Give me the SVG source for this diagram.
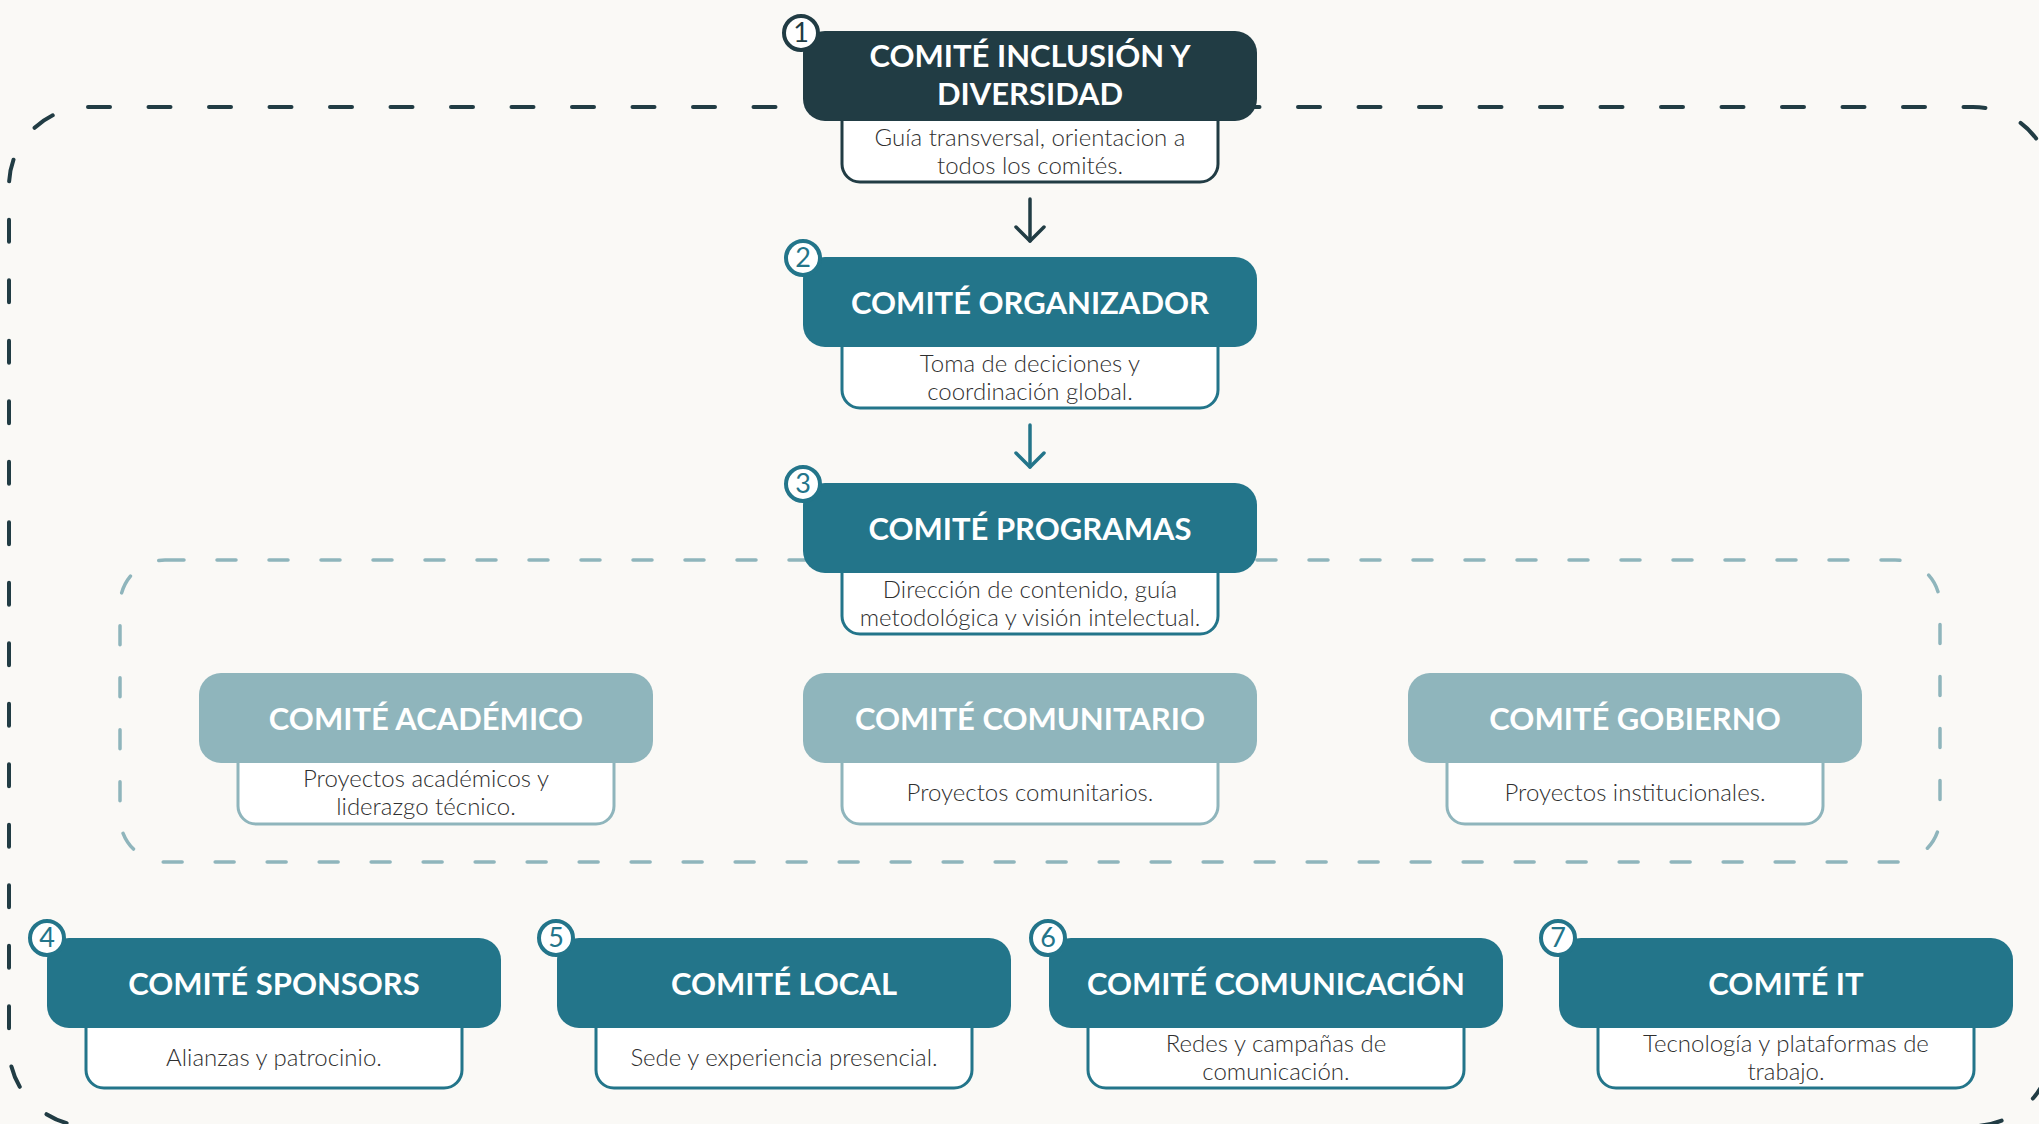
<svg xmlns="http://www.w3.org/2000/svg" width="2039" height="1124" viewBox="0 0 2039 1124">
  <style>
    .bg { fill: #faf9f6; }
    .outer { fill: none; stroke: #213c44; stroke-width: 4; stroke-dasharray: 22 38.5; stroke-linecap: round; }
    .inner { fill: none; stroke: #8fb5bc; stroke-width: 3.5; stroke-dasharray: 19 33; stroke-linecap: round; }
    .hd-dark { fill: #213c44; }
    .hd-teal { fill: #23758a; }
    .hd-light { fill: #8fb5bc; }
    .ds { fill: #ffffff; stroke-width: 3; }
    .ds-dark { stroke: #213c44; }
    .ds-teal { stroke: #23758a; }
    .ds-light { stroke: #8fb5bc; }
    .title { font-family: Lato, "Liberation Sans", sans-serif; font-weight: 700; font-size: 31px; fill: #ffffff; text-anchor: middle; }
    .desc { font-family: Lato, "Liberation Sans", sans-serif; font-weight: 300; font-size: 24px; fill: #2f2f2f; text-anchor: middle; }
    .badge { fill: #ffffff; stroke-width: 4; }
    .b-dark { stroke: #213c44; }
    .b-teal { stroke: #23758a; }
    .num { font-family: Lato, "Liberation Sans", sans-serif; font-weight: 400; font-size: 27px; text-anchor: middle; }
    .n-dark { fill: #213c44; }
    .n-teal { fill: #23758a; }
    .arr { fill: none; stroke-width: 3.5; stroke-linecap: round; }
  </style>
  <defs>
    <marker id="head-dark" markerUnits="userSpaceOnUse" markerWidth="40" markerHeight="40" refX="0" refY="0" viewBox="-20 -20 40 40" orient="auto" overflow="visible">
      <path d="M-14,-14 L0,0 L-14,14" fill="none" stroke="#213c44" stroke-width="3.5" stroke-linecap="round" stroke-linejoin="round"/>
    </marker>
    <marker id="head-teal" markerUnits="userSpaceOnUse" markerWidth="40" markerHeight="40" refX="0" refY="0" viewBox="-20 -20 40 40" orient="auto" overflow="visible">
      <path d="M-14,-14 L0,0 L-14,14" fill="none" stroke="#23758a" stroke-width="3.5" stroke-linecap="round" stroke-linejoin="round"/>
    </marker>
  </defs>

  <rect class="bg" x="0" y="0" width="2039" height="1124"/>

  <g id="groups">
    <rect class="outer" x="9" y="107" width="2043" height="1019" rx="79"/>
    <rect class="inner" x="120" y="560" width="1820" height="302" rx="45"/>
  </g>

  <g id="connectors">
    <line class="arr" x1="1030" y1="199" x2="1030" y2="241" stroke="#213c44" marker-end="url(#head-dark)"/>
    <line class="arr" x1="1030" y1="425" x2="1030" y2="467" stroke="#23758a" marker-end="url(#head-teal)"/>
  </g>

  <g id="node-1">
    <rect class="ds ds-dark" x="842" y="101" width="376" height="81" rx="18"/>
    <rect class="hd-dark" x="803" y="31" width="454" height="90" rx="22"/>
    <text class="title" x="1030" y="67">COMITÉ INCLUSIÓN Y</text>
    <text class="title" x="1030" y="105">DIVERSIDAD</text>
    <text class="desc" x="1030" y="146">Guía transversal, orientacion a</text>
    <text class="desc" x="1030" y="174">todos los comités.</text>
    <circle class="badge b-dark" cx="801" cy="33" r="17"/>
    <text class="num n-dark" x="801" y="42">1</text>
  </g>

  <g id="node-2">
    <rect class="ds ds-teal" x="842" y="327" width="376" height="81" rx="18"/>
    <rect class="hd-teal" x="803" y="257" width="454" height="90" rx="22"/>
    <text class="title" x="1030" y="314">COMITÉ ORGANIZADOR</text>
    <text class="desc" x="1030" y="372">Toma de deciciones y</text>
    <text class="desc" x="1030" y="400">coordinación global.</text>
    <circle class="badge b-teal" cx="803" cy="258" r="17"/>
    <text class="num n-teal" x="803" y="267">2</text>
  </g>

  <g id="node-3">
    <rect class="ds ds-teal" x="842" y="553" width="376" height="81" rx="18"/>
    <rect class="hd-teal" x="803" y="483" width="454" height="90" rx="22"/>
    <text class="title" x="1030" y="540">COMITÉ PROGRAMAS</text>
    <text class="desc" x="1030" y="598">Dirección de contenido, guía</text>
    <text class="desc" x="1030" y="626">metodológica y visión intelectual.</text>
    <circle class="badge b-teal" cx="803" cy="484" r="17"/>
    <text class="num n-teal" x="803" y="493">3</text>
  </g>

  <g id="node-academico">
    <rect class="ds ds-light" x="238" y="743" width="376" height="81" rx="18"/>
    <rect class="hd-light" x="199" y="673" width="454" height="90" rx="22"/>
    <text class="title" x="426" y="730">COMITÉ ACADÉMICO</text>
    <text class="desc" x="426" y="787">Proyectos académicos y</text>
    <text class="desc" x="426" y="815">liderazgo técnico.</text>
  </g>

  <g id="node-comunitario">
    <rect class="ds ds-light" x="842" y="743" width="376" height="81" rx="18"/>
    <rect class="hd-light" x="803" y="673" width="454" height="90" rx="22"/>
    <text class="title" x="1030" y="730">COMITÉ COMUNITARIO</text>
    <text class="desc" x="1030" y="801">Proyectos comunitarios.</text>
  </g>

  <g id="node-gobierno">
    <rect class="ds ds-light" x="1447" y="743" width="376" height="81" rx="18"/>
    <rect class="hd-light" x="1408" y="673" width="454" height="90" rx="22"/>
    <text class="title" x="1635" y="730">COMITÉ GOBIERNO</text>
    <text class="desc" x="1635" y="801">Proyectos institucionales.</text>
  </g>

  <g id="node-4">
    <rect class="ds ds-teal" x="86" y="1008" width="376" height="80" rx="18"/>
    <rect class="hd-teal" x="47" y="938" width="454" height="90" rx="22"/>
    <text class="title" x="274" y="995">COMITÉ SPONSORS</text>
    <text class="desc" x="274" y="1066">Alianzas y patrocinio.</text>
    <circle class="badge b-teal" cx="47" cy="938" r="17"/>
    <text class="num n-teal" x="47" y="947">4</text>
  </g>

  <g id="node-5">
    <rect class="ds ds-teal" x="596" y="1008" width="376" height="80" rx="18"/>
    <rect class="hd-teal" x="557" y="938" width="454" height="90" rx="22"/>
    <text class="title" x="784" y="995">COMITÉ LOCAL</text>
    <text class="desc" x="784" y="1066">Sede y experiencia presencial.</text>
    <circle class="badge b-teal" cx="556" cy="938" r="17"/>
    <text class="num n-teal" x="556" y="947">5</text>
  </g>

  <g id="node-6">
    <rect class="ds ds-teal" x="1088" y="1008" width="376" height="80" rx="18"/>
    <rect class="hd-teal" x="1049" y="938" width="454" height="90" rx="22"/>
    <text class="title" x="1276" y="995">COMITÉ COMUNICACIÓN</text>
    <text class="desc" x="1276" y="1052">Redes y campañas de</text>
    <text class="desc" x="1276" y="1080">comunicación.</text>
    <circle class="badge b-teal" cx="1048" cy="938" r="17"/>
    <text class="num n-teal" x="1048" y="947">6</text>
  </g>

  <g id="node-7">
    <rect class="ds ds-teal" x="1598" y="1008" width="376" height="80" rx="18"/>
    <rect class="hd-teal" x="1559" y="938" width="454" height="90" rx="22"/>
    <text class="title" x="1786" y="995">COMITÉ IT</text>
    <text class="desc" x="1786" y="1052">Tecnología y plataformas de</text>
    <text class="desc" x="1786" y="1080">trabajo.</text>
    <circle class="badge b-teal" cx="1558" cy="938" r="17"/>
    <text class="num n-teal" x="1558" y="947">7</text>
  </g>
</svg>
